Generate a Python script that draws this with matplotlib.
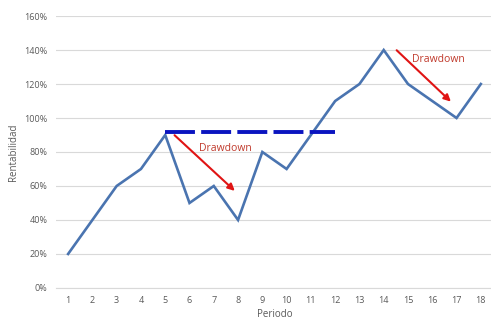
import matplotlib
matplotlib.use("Agg")
import matplotlib.pyplot as plt
from matplotlib.ticker import FuncFormatter

periodos = list(range(1, 19))
rentabilidad = [20, 40, 60, 70, 90, 50, 60, 40, 80, 70, 90, 110, 120, 140, 120, 110, 100, 120]
maximo_x = [5, 12]
maximo_y = [92, 92]

plt.rcParams['font.family'] = ['Open Sans', 'DejaVu Sans']

fig = plt.figure(figsize=(4.91, 3.21), dpi=100)
ax = fig.add_axes([0.114, 0.103, 0.89, 0.847])

ax.plot(periodos, rentabilidad, color='#4a74b0', linewidth=1.9, solid_joinstyle='miter')
ax.plot(maximo_x, maximo_y, color='#0a14c0', linewidth=2.8, dashes=(7.7, 1.6))

ax.annotate('', xy=(7.95, 56), xytext=(5.3, 91),
            arrowprops=dict(arrowstyle='-|>', color='#e01414', lw=1.5, mutation_scale=10))
ax.annotate('', xy=(16.85, 108.5), xytext=(14.45, 141),
            arrowprops=dict(arrowstyle='-|>', color='#e01414', lw=1.5, mutation_scale=10))
ax.text(6.4, 82, 'Drawdown', color='#c0392b', fontsize=7.5, va='center', ha='left')
ax.text(15.15, 134.5, 'Drawdown', color='#c0392b', fontsize=7.5, va='center', ha='left')

ax.set_xlim(0.5, 18.5)
ax.set_ylim(0, 160)
ax.set_xticks(periodos)
ax.set_yticks(range(0, 161, 20))
ax.yaxis.set_major_formatter(FuncFormatter(lambda v, p: f'{int(v)}%'))
ax.tick_params(axis='both', length=0, labelsize=6.5, labelcolor='#595959', pad=6)
ax.grid(axis='y', color='#d9d9d9', linewidth=0.8)
ax.set_axisbelow(True)
for s in ['top', 'right', 'left']:
    ax.spines[s].set_visible(False)
ax.spines['bottom'].set_color('#d9d9d9')
ax.spines['bottom'].set_linewidth(0.8)

ax.set_xlabel('Periodo', fontsize=7, color='#595959', labelpad=3)
ax.set_ylabel('Rentabilidad', fontsize=7, color='#595959', labelpad=4)

fig.savefig('out.png', dpi=100)
